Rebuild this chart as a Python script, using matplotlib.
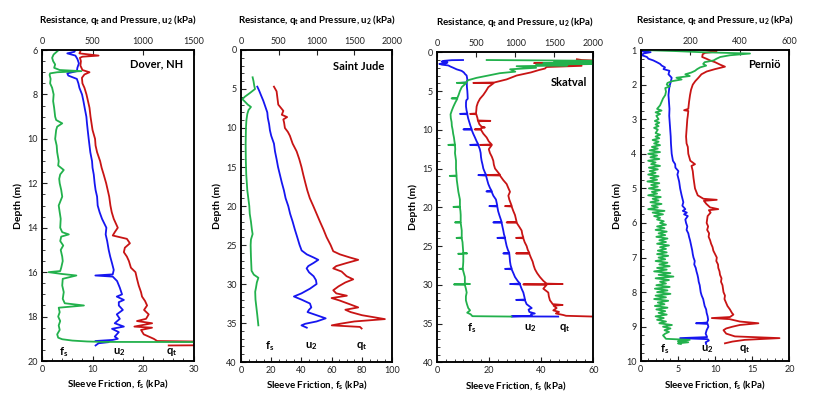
import matplotlib.pyplot as plt
from matplotlib.ticker import MultipleLocator, AutoMinorLocator

plt.rcParams['font.family'] = ['Lato', 'DejaVu Sans']
plt.rcParams['mathtext.fontset'] = 'custom'
plt.rcParams['mathtext.rm'] = 'Lato'
plt.rcParams['mathtext.bf'] = 'Lato:bold'
plt.rcParams['mathtext.default'] = 'bf'

GREEN = '#22b14c'
BLUE = '#1616f0'
RED = '#c81414'
LW = 1.3

# ---------------- Dover, NH ----------------
dov_q_d = [6.05, 6.15, 6.25, 6.3, 6.35, 6.5, 6.7, 6.9, 7.0, 7.1, 7.25, 7.5, 7.7, 8.0, 8.3, 8.6, 9.0, 9.3,
           9.6, 10.0, 10.3, 10.6, 11.0, 11.3, 11.6, 12.0, 12.3, 12.6, 13.0, 13.3, 13.6, 14.0, 14.2, 14.35,
           14.5, 14.7, 14.9, 15.1, 15.3, 15.5, 15.8, 16.0, 16.3, 16.6, 16.9, 17.1, 17.3, 17.5, 17.7, 17.9,
           18.1, 18.2, 18.3, 18.45, 18.5, 18.6, 18.8, 19.0, 19.1, 19.15, 19.28, 19.3]
dov_q = [380, 370, 560, 400, 375, 385, 380, 400, 470, 420, 395, 400, 420, 440, 455, 470, 480, 490,
         500, 525, 530, 545, 575, 590, 610, 635, 650, 665, 677, 690, 710, 750, 720, 700,
         840, 870, 820, 810, 840, 860, 880, 925, 940, 957, 980, 990, 1020, 1040, 1010, 1056,
         1030, 940, 1090, 914, 1089, 980, 1007, 1106, 1140, 2000, 2000, 1254]
dov_u_d = [6.0, 6.08, 6.15, 6.25, 6.4, 6.6, 6.8, 6.95, 7.05, 7.15, 7.3, 7.5, 7.7, 8.0, 8.3, 8.6, 9.0, 9.3,
           9.6, 10.0, 10.3, 10.6, 11.0, 11.3, 11.6, 12.0, 12.3, 12.6, 13.0, 13.3, 13.6, 14.0, 14.3, 14.6,
           15.0, 15.3, 15.6, 15.9, 16.1, 16.15, 16.2, 16.4, 16.7, 17.0, 17.1, 17.25, 17.35, 17.5, 17.7,
           17.9, 18.1, 18.3, 18.45, 18.55, 18.7, 18.9, 19.0, 19.05, 19.1, 19.15, 19.2, 19.3]
dov_u = [330, 320, 250, 330, 350, 365, 350, 345, 250, 260, 345, 360, 370, 396, 410, 422, 439, 445,
         452, 462, 470, 478, 495, 500, 512, 521, 530, 545, 551, 570, 594, 637, 630, 645,
         660, 675, 693, 710, 700, 528, 700, 743, 770, 792, 740, 810, 760, 760, 800,
         740, 770, 720, 810, 693, 760, 720, 750, 700, 528, 660, 560, 530]
dov_f_d = [6.0, 6.1, 6.2, 6.35, 6.5, 6.65, 6.8, 6.9, 6.95, 7.0, 7.05, 7.12, 7.3, 7.5, 7.7, 8.0, 8.3, 8.6,
           9.0, 9.15, 9.3, 9.45, 9.6, 10.0, 10.3, 10.6, 11.0, 11.2, 11.4, 11.6, 11.8, 12.0, 12.3, 12.6,
           13.0, 13.3, 13.6, 14.0, 14.2, 14.3, 14.4, 14.6, 14.8, 15.0, 15.3, 15.5, 15.8, 15.95, 16.0,
           16.08, 16.15, 16.3, 16.6, 16.9, 17.2, 17.4, 17.5, 17.6, 17.8, 18.0, 18.2, 18.4, 18.6, 18.8,
           18.95, 19.02, 19.08, 19.12, 19.14, 19.15]
dov_f = [3.3, 2.8, 2.3, 2.0, 2.2, 2.6, 2.4, 3.5, 7.8, 3.0, 1.6, 1.5, 1.7, 1.6, 2.0, 2.3, 2.2, 2.4,
         2.6, 2.8, 4.0, 3.0, 2.8, 2.6, 2.9, 3.0, 3.3, 3.2, 4.3, 3.6, 3.4, 3.5, 3.8, 4.0,
         3.3, 3.5, 3.7, 3.6, 4.0, 5.3, 3.8, 3.6, 4.2, 3.7, 4.0, 4.1, 3.8, 3.6, 1.3,
         3.9, 6.8, 4.1, 4.0, 4.3, 4.1, 4.5, 8.3, 3.3, 3.5, 3.2, 3.6, 3.3, 3.5, 3.0,
         3.2, 4.0, 6.0, 8.9, 12.0, 40.0]

# ---------------- Saint Jude ----------------
stj_q_d = [4.7, 5.3, 6.0, 7.0, 7.8, 8.3, 8.6, 8.9, 9.3, 10.0, 10.5, 11.0, 12.0, 13.0, 14.0, 15.0, 16.0,
           17.0, 18.0, 19.0, 20.0, 21.0, 22.0, 23.0, 24.0, 25.0, 25.8, 26.2, 26.6, 26.9, 27.3, 27.7,
           28.0, 28.4, 29.0, 29.4, 29.8, 30.3, 30.8, 31.2, 31.5, 31.8, 32.1, 32.6, 33.0, 33.3, 33.6,
           34.0, 34.5, 34.8, 35.1, 35.3, 35.5, 35.7]
stj_q = [436, 471, 480, 493, 560, 540, 610, 560, 570, 581, 620, 647, 683, 736, 771, 800, 824,
         850, 877, 910, 956, 1000, 1044, 1090, 1132, 1185, 1220, 1308, 1440, 1550, 1400, 1260,
         1220, 1330, 1396, 1484, 1380, 1290, 1220, 1260, 1400, 1198, 1300, 1440, 1550, 1380, 1450,
         1600, 1903, 1500, 1308, 1200, 1573, 1595]
stj_u_d = [4.7, 5.2, 5.8, 6.5, 7.2, 8.0, 8.7, 9.5, 10.3, 11.0, 12.0, 13.0, 14.0, 15.0, 16.0, 17.0, 18.0,
           19.0, 20.0, 21.0, 22.0, 23.0, 24.0, 25.0, 25.7, 26.2, 26.6, 26.9, 27.3, 27.7, 28.0, 28.5,
           29.0, 29.5, 30.0, 30.6, 31.2, 31.6, 32.0, 32.5, 33.0, 33.3, 33.6, 34.0, 34.4, 34.8, 35.1,
           35.3, 35.6]
stj_u = [216, 240, 265, 295, 320, 348, 355, 372, 383, 400, 436, 450, 471, 490, 515, 540, 568,
         590, 625, 650, 683, 712, 744, 775, 802, 870, 960, 1022, 960, 890, 868, 900,
         960, 991, 1000, 912, 800, 700, 800, 912, 930, 900, 880, 1000, 1120, 1000, 850,
         800, 870]
stj_f_d = [3.5, 4.0, 4.6, 5.0, 5.5, 6.0, 6.3, 6.6, 7.0, 7.3, 7.7, 8.2, 9.0, 10.0, 12.0, 14.0, 16.0, 18.0,
           20.0, 21.0, 22.0, 23.0, 23.6, 24.3, 25.0, 26.5, 28.3, 28.8, 29.2, 29.8, 30.5, 31.0, 32.0,
           33.0, 34.0, 35.3]
stj_f = [7.7, 8.3, 8.8, 9.3, 6.0, 2.5, 0.9, 2.5, 4.5, 6.6, 5.0, 4.2, 3.6, 3.3, 3.1, 3.2, 3.5, 4.2,
         5.5, 5.8, 6.6, 7.2, 7.7, 6.6, 6.4, 6.6, 7.0, 8.5, 11.5, 10.5, 9.9, 9.4, 9.6,
         10.2, 10.8, 11.5]

# ---------------- Skatval ----------------
skt_q_d = [0.9, 1.0, 1.1, 1.2, 1.3, 1.4, 1.5, 1.6, 1.75, 1.9, 2.1, 2.3, 2.6, 3.0, 3.5, 3.9, 3.95, 4.0,
           4.5, 5.0, 5.5, 6.0, 6.5, 7.0, 7.5, 7.9, 7.95, 8.0, 8.5, 8.8, 8.85, 8.9, 9.3, 9.6, 9.7, 9.8,
           9.9, 9.95, 10.0, 10.5, 11.0, 11.5, 11.9, 11.95, 12.0, 12.5, 13.0, 13.5, 14.0, 14.5, 15.0,
           15.8, 15.85, 15.9, 16.5, 17.0, 17.5, 18.0, 18.5, 19.0, 19.8, 19.85, 19.9, 20.5, 21.0,
           21.9, 21.95, 22.0, 22.5, 23.0, 23.5, 23.9, 23.95, 24.0, 24.5, 25.0, 25.5, 25.9, 25.95,
           26.0, 26.5, 27.0, 27.5, 28.0, 28.5, 29.0, 29.5, 29.85, 29.9, 29.95, 30.0, 30.5, 31.0,
           31.5, 32.0, 32.5, 32.6, 32.7, 33.0, 33.3, 33.5, 33.7, 33.9, 34.0, 34.1]
skt_q = [1790, 1850, 2100, 1700, 1900, 1240, 2100, 1500, 1850, 1400, 1380, 1300, 1200, 1017, 889, 730, 462, 720,
         654, 624, 590, 547, 520, 504, 500, 496, 420, 500, 515, 520, 680, 525, 540, 568, 610, 560,
         560, 480, 560, 590, 633, 660, 697, 547, 697, 660, 675, 700, 718, 725, 740,
         803, 547, 803, 846, 889, 910, 932, 911, 923, 953, 868, 953, 975, 996,
         1017, 889, 1017, 1050, 1081, 1090, 1103, 1009, 1103, 1120, 1145, 1160, 1180, 1009,
         1180, 1200, 1222, 1235, 1252, 1280, 1316, 1360, 1402, 1607, 1103, 1402, 1359, 1423,
         1430, 1444, 1480, 1607, 1490, 1530, 1487, 1560, 1520, 1616, 1650, 2000]
skt_u_d = [1.0, 1.02, 1.1, 1.2, 1.3, 1.4, 1.5, 1.6, 1.7, 1.85, 2.0, 2.2, 2.4, 2.6, 2.8, 3.0, 3.5, 3.9,
           3.95, 4.0, 4.5, 5.0, 5.5, 6.0, 6.2, 6.5, 7.0, 7.5, 7.9, 7.95, 8.0, 8.5, 9.0, 9.5, 9.9, 9.95,
           10.0, 10.5, 11.0, 11.5, 11.9, 11.95, 12.0, 12.5, 13.0, 13.5, 14.0, 14.5, 15.0, 15.5, 15.8,
           15.85, 15.9, 16.5, 17.0, 17.5, 17.9, 17.95, 18.0, 18.5, 19.0, 19.8, 19.85, 19.9, 20.5,
           21.0, 21.9, 21.95, 22.0, 22.5, 23.0, 23.5, 23.9, 23.95, 24.0, 24.5, 25.0, 25.5, 25.9,
           25.95, 26.0, 26.5, 27.0, 27.5, 27.9, 27.95, 28.0, 28.5, 29.0, 29.5, 29.85, 29.9, 29.95,
           30.5, 31.0, 31.5, 31.9, 31.95, 32.0, 32.5, 33.0, 33.2, 33.5, 33.7, 33.8, 34.0, 34.08, 34.1]
skt_u = [330, 184, 90, 56, 130, 120, 26, 60, 141, 170, 205, 248, 312, 340, 355, 376, 385, 376,
         300, 378, 380, 385, 388, 390, 372, 368, 368, 375, 385, 291, 385, 395, 410, 425, 440, 335,
         440, 460, 483, 505, 526, 420, 526, 545, 556, 560, 568, 580, 590, 610, 624,
         526, 624, 640, 654, 675, 697, 630, 697, 718, 752, 769, 667, 769, 780,
         795, 825, 718, 825, 835, 846, 855, 868, 770, 868, 878, 889, 905, 923,
         846, 923, 928, 932, 940, 953, 868, 953, 975, 996, 1030, 1060, 932, 1060,
         1080, 1103, 1115, 1124, 1010, 1124, 1145, 1210, 1170, 1180, 1250, 1200, 1210, 950, 1550]
skt_f_d = [1.0, 1.1, 1.2, 1.3, 1.4, 1.5, 1.6, 1.7, 1.8, 2.0, 2.2, 2.5, 2.7, 3.0, 3.3, 3.6, 3.9, 3.95,
           4.0, 4.5, 5.0, 5.5, 5.9, 5.95, 6.0, 6.5, 7.0, 7.5, 8.0, 8.5, 9.0, 9.5, 10.0, 10.5, 11.0,
           11.5, 11.9, 11.95, 12.0, 12.5, 13.0, 13.5, 14.0, 15.0, 15.9, 15.95, 16.0, 16.5, 17.0,
           17.5, 18.0, 18.5, 19.0, 19.5, 19.9, 19.95, 20.0, 20.5, 21.0, 21.9, 21.95, 22.0, 22.5,
           23.0, 23.9, 23.95, 24.0, 24.5, 25.0, 25.9, 25.95, 26.0, 26.05, 26.5, 27.0, 27.5, 27.9,
           27.95, 28.0, 28.5, 29.0, 29.5, 29.85, 29.9, 29.95, 30.0, 30.5, 31.0, 31.5, 32.0, 32.5,
           33.0, 33.3, 33.6, 33.8, 34.05, 34.1]
skt_f = [19, 62, 45, 62, 40.8, 62, 38, 50, 30.5, 38, 28, 30, 24, 19.6, 15.1, 11.9, 11, 7.5,
         11, 9.4, 8.7, 8.2, 7.7, 5.5, 7.7, 6.9, 6.2, 5.6, 5.1, 5.2, 5.5, 5.6, 5.9, 6.1, 6.4,
         6.6, 6.8, 4.2, 6.8, 6.9, 6.8, 7.0, 7.2, 7.2, 7.4, 4.8, 7.4, 7.5, 7.7,
         7.9, 8.1, 8.4, 8.7, 8.7, 8.7, 6.2, 8.7, 8.9, 9.0, 9.0, 6.8, 9.0, 9.2,
         9.4, 9.4, 7.4, 9.4, 9.7, 9.8, 10.0, 11.5, 8.0, 10.0, 10.0, 10.0, 9.9, 9.8,
         8.5, 9.8, 10.2, 10.6, 10.6, 10.6, 12.6, 6.4, 10.6, 11.0, 11.3, 11.0, 11.0, 11.4,
         11.9, 12.6, 11.5, 12.8, 13.5, 28.5]

# ---------------- Pernio ----------------
per_q_d = [1.0, 1.02, 1.05, 1.08, 1.12, 1.2, 1.25, 1.3, 1.35, 1.42, 1.48, 1.55, 1.62, 1.7, 1.8, 1.9, 2.0,
           2.15, 2.3, 2.5, 2.7, 2.74, 2.76, 2.9, 3.0, 3.2, 3.5, 3.7, 3.8, 4.0, 4.2, 4.3, 4.35, 4.5, 4.7,
           5.0, 5.2, 5.3, 5.33, 5.36, 5.45, 5.55, 5.6, 5.63, 5.7, 5.8, 5.9, 6.0, 6.1, 6.2, 6.3, 6.4,
           6.5, 6.6, 6.7, 6.8, 6.9, 7.0, 7.1, 7.2, 7.3, 7.4, 7.5, 7.6, 7.7, 7.8, 7.9, 8.0, 8.1, 8.2,
           8.3, 8.4, 8.5, 8.6, 8.65, 8.72, 8.75, 8.78, 8.85, 8.9, 8.95, 9.0, 9.05, 9.1, 9.2, 9.28,
           9.33, 9.38, 9.43, 9.48]
per_q = [253, 307, 300, 260, 250, 248, 265, 280, 300, 320, 340, 300, 266, 245, 233, 220, 210,
         203, 199, 195, 192, 175, 192, 190, 188, 186, 183, 185, 190, 192, 200, 219, 205, 210, 213,
         219, 230, 253, 307, 255, 265, 280, 313, 275, 282, 270, 268, 266, 272, 268, 276, 274,
         280, 284, 290, 293, 300, 307, 305, 312, 313, 318, 320, 326, 324, 330, 332, 334, 340, 338,
         344, 350, 360, 368, 374, 360, 287, 358, 400, 475, 400, 370, 345, 334, 345, 380,
         560, 420, 370, 340]
per_u_d = [1.0, 1.03, 1.06, 1.1, 1.15, 1.2, 1.25, 1.3, 1.35, 1.4, 1.45, 1.5, 1.55, 1.6, 1.7, 1.8, 1.9,
           2.0, 2.1, 2.3, 2.5, 2.7, 2.9, 3.0, 3.2, 3.5, 3.7, 4.0, 4.2, 4.3, 4.4, 4.5, 4.6, 4.8, 5.0,
           5.2, 5.4, 5.5, 5.6, 5.65, 5.7, 5.75, 5.8, 5.9, 6.0, 6.1, 6.2, 6.3, 6.4, 6.5, 6.6, 6.7,
           6.8, 6.9, 7.0, 7.1, 7.2, 7.3, 7.4, 7.5, 7.6, 7.7, 7.8, 7.9, 8.0, 8.1, 8.2, 8.3, 8.4, 8.5,
           8.6, 8.7, 8.8, 8.88, 8.9, 8.92, 9.0, 9.1, 9.2, 9.3, 9.33, 9.36, 9.4, 9.45, 9.5]
per_u = [24, 0, 40, 11, 5, 25, 31, 51, 65, 78, 85, 98, 92, 116, 112, 125, 122,
         118, 115, 112, 114, 116, 115, 116, 118, 121, 122, 125, 130, 139, 140, 152, 148, 155, 159,
         165, 172, 168, 180, 170, 186, 175, 190, 180, 183, 188, 185, 192, 195, 199, 202, 205,
         208, 210, 213, 218, 216, 222, 225, 229, 232, 234, 238, 240, 242, 246, 252, 255, 258, 264,
         266, 270, 272, 268, 223, 270, 273, 266, 262, 268, 159, 270, 275, 262, 264]
per_f_d = [1.0, 1.03, 1.06, 1.1, 1.15, 1.2, 1.25, 1.3, 1.35, 1.4, 1.45, 1.5, 1.55, 1.6, 1.65, 1.7, 1.75,
           1.8, 1.85, 1.9, 1.95, 2.0, 2.05, 2.1, 2.2, 2.3, 2.4, 2.5, 2.6, 2.7, 2.75, 2.8, 2.85, 2.9,
           3.0, 3.05, 3.1, 3.15, 3.2, 3.25, 3.3, 3.4, 3.45, 3.5, 3.55, 3.6, 3.65, 3.7, 3.75, 3.8,
           3.85, 3.9, 3.95, 4.0, 4.05, 4.1, 4.15, 4.2, 4.25, 4.3, 4.35, 4.4, 4.45, 4.5, 4.55, 4.6,
           4.65, 4.7, 4.75, 4.8, 4.85, 4.9, 4.95, 5.0, 5.05, 5.1, 5.15, 5.2, 5.25, 5.3, 5.35, 5.4,
           5.45, 5.5, 5.55, 5.6, 5.65, 5.7, 5.75, 5.8, 5.85, 5.9, 5.95, 6.0, 6.05, 6.1, 6.15, 6.2,
           6.25, 6.3, 6.35, 6.4, 6.45, 6.5, 6.55, 6.6, 6.65, 6.7, 6.75, 6.8, 6.85, 6.9, 6.95, 7.0,
           7.05, 7.1, 7.15, 7.2, 7.25, 7.3, 7.35, 7.4, 7.45, 7.5, 7.55, 7.6, 7.65, 7.7, 7.75, 7.8,
           7.85, 7.9, 7.95, 8.0, 8.05, 8.1, 8.15, 8.2, 8.25, 8.3, 8.35, 8.4, 8.45, 8.5, 8.55, 8.6,
           8.65, 8.7, 8.75, 8.8, 8.85, 8.9, 8.95, 9.0, 9.05, 9.1, 9.15, 9.2, 9.25, 9.3, 9.35, 9.38,
           9.42, 9.45, 9.48, 9.5]
per_f = [0.4, 4.8, 8.0, 14.7, 12.0, 10.7, 10.2, 9.8, 8.6, 8.4, 8.8, 8.0, 7.6, 7.3, 6.8, 6.0, 6.6,
         4.8, 5.5, 4.2, 3.6, 3.5, 3.9, 3.3, 3.4, 3.3, 3.0, 2.8, 2.6, 2.2, 2.8, 2.0, 2.6, 2.1,
         2.4, 1.9, 2.5, 2.0, 2.4, 1.8, 2.3, 2.0, 2.6, 2.0, 2.5, 1.6, 2.4, 1.8, 2.6, 1.5,
         2.3, 1.2, 2.6, 1.0, 2.2, 1.3, 2.5, 1.0, 2.0, 1.4, 2.6, 1.1, 2.3, 1.2, 2.0, 1.0,
         2.4, 1.3, 2.2, 0.9, 2.5, 1.4, 2.3, 1.1, 2.6, 1.5, 2.2, 1.0, 2.7, 1.6, 2.4, 1.3,
         2.8, 1.5, 2.3, 1.0, 3.2, 1.6, 3.0, 1.8, 2.6, 2.2, 3.1, 2.6, 3.4, 2.2, 3.2, 2.0,
         3.5, 2.4, 3.3, 2.1, 3.6, 2.5, 3.4, 2.2, 3.8, 2.6, 3.4, 2.3, 3.5, 2.2, 3.7, 2.4,
         3.3, 2.0, 3.6, 2.5, 3.9, 2.2, 3.5, 1.8, 4.0, 2.4, 4.4, 2.0, 3.8, 2.6, 3.4, 2.1,
         3.9, 1.9, 3.6, 2.2, 4.0, 2.0, 3.4, 1.8, 3.7, 2.3, 3.2, 1.9, 3.6, 2.1, 3.3, 2.4,
         3.5, 2.0, 3.1, 2.2, 3.4, 2.5, 4.2, 3.0, 4.0, 3.2, 3.8, 3.3, 3.0, 3.2, 3.4, 6.6,
         5.0, 6.4, 5.0, 5.4]

top_label = 'Resistance, q$_t$ and Pressure, u$_2$ (kPa)'
bot_label = 'Sleeve Friction, f$_s$ (kPa)'

fig = plt.figure(figsize=(8.16, 3.99), dpi=100)


def panel(rect, ylim, ystep, yminor, qmax, qstep, fmax, fstep, fminor, site, site_xy, lab_y, lab_x):
    ax = fig.add_axes(rect)      # resistance / pressure, on the top axis
    ax2 = ax.twiny()             # sleeve friction, on the bottom axis
    ax.xaxis.set_ticks_position('top')
    ax.xaxis.set_label_position('top')
    ax2.xaxis.set_ticks_position('bottom')
    ax2.xaxis.set_label_position('bottom')

    ax.set_ylim(ylim[1], ylim[0])
    ax.set_xlim(0, qmax)
    ax2.set_xlim(0, fmax)
    ax.xaxis.set_major_locator(MultipleLocator(qstep))
    ax.yaxis.set_major_locator(MultipleLocator(ystep))
    ax.yaxis.set_minor_locator(AutoMinorLocator(yminor))
    ax2.xaxis.set_major_locator(MultipleLocator(fstep))
    ax2.xaxis.set_minor_locator(AutoMinorLocator(fminor))

    for a in (ax, ax2):
        for s in a.spines.values():
            s.set_linewidth(1.1)
        a.tick_params(which='both', direction='in', labelsize=6.5, colors='#222222', pad=3)
        a.tick_params(which='major', length=3.5, width=0.8)
        a.tick_params(which='minor', length=2, width=0.6)
    ax.tick_params(axis='y', right=False)
    ax.tick_params(axis='x', which='minor', top=False)

    ax.set_xlabel(top_label, fontsize=7, fontweight='bold', labelpad=10)
    ax2.set_xlabel(bot_label, fontsize=7, fontweight='bold', labelpad=3)
    ax.set_ylabel('Depth (m)', fontsize=7.5, fontweight='bold', labelpad=3)

    ax.text(site_xy[0], site_xy[1], site, transform=ax.transAxes, ha='right', va='center',
            fontsize=8, fontweight='bold')
    ax2.text(lab_x[0], lab_y, 'f$_s$', ha='center', va='center', fontsize=8, fontweight='bold')
    ax2.text(lab_x[1], lab_y, 'u$_2$', ha='center', va='center', fontsize=8, fontweight='bold')
    ax2.text(lab_x[2], lab_y, 'q$_t$', ha='center', va='center', fontsize=8, fontweight='bold')
    return ax, ax2


ax, ax2 = panel([0.0515, 0.0952, 0.1857, 0.7794], (6, 20), 2, 4, 1500, 500, 30, 10, 5,
                'Dover, NH', (0.93, 0.955), 19.6, (4.3, 15.2, 25.7))
ax.plot(dov_q, dov_q_d, color=RED, lw=LW)
ax.plot(dov_u, dov_u_d, color=BLUE, lw=LW)
ax2.plot(dov_f, dov_f_d, color=GREEN, lw=LW)

ax, ax2 = panel([0.2953, 0.0927, 0.1854, 0.782], (0, 40), 5, 5, 2000, 500, 100, 20, 4,
                'Saint Jude', (0.95, 0.946), 38.0, (19.2, 46.7, 79.7))
ax.plot(stj_q, stj_q_d, color=RED, lw=LW)
ax.plot(stj_u, stj_u_d, color=BLUE, lw=LW)
ax2.plot(stj_f, stj_f_d, color=GREEN, lw=LW)

ax, ax2 = panel([0.5359, 0.092, 0.1912, 0.777], (0, 40), 5, 5, 2000, 500, 60, 20, 6,
                'Skatval', (0.958, 0.902), 35.6, (13.2, 35.9, 49.1))
ax.plot(skt_q, skt_q_d, color=RED, lw=LW)
ax.plot(skt_u, skt_u_d, color=BLUE, lw=LW)
ax2.plot(skt_f, skt_f_d, color=GREEN, lw=LW)

ax, ax2 = panel([0.7852, 0.0945, 0.1822, 0.780], (1, 10), 1, 4, 600, 200, 20, 5, 5,
                'Perniö', (0.94, 0.955), 9.64, (3.2, 8.9, 14.0))
ax.plot(per_q, per_q_d, color=RED, lw=LW)
ax.plot(per_u, per_u_d, color=BLUE, lw=LW)
ax2.plot(per_f, per_f_d, color=GREEN, lw=LW)

fig.savefig('out.png', dpi=100)
